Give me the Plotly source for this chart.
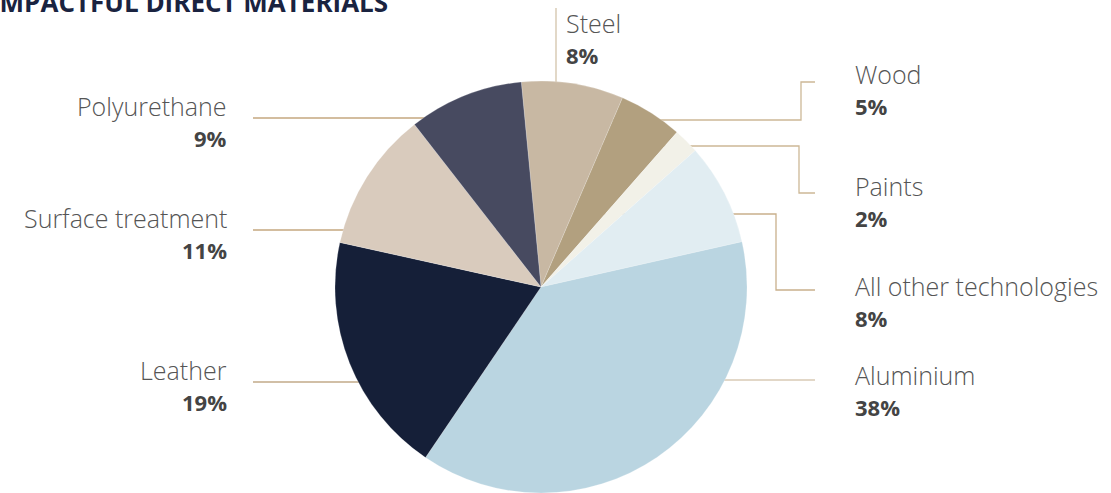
import plotly.graph_objects as go

W, H = 1111, 493

categories = ["Steel", "Wood", "Paints", "All other technologies", "Aluminium",
              "Leather", "Surface treatment", "Polyurethane"]
values = [8, 5, 2, 8, 38, 19, 11, 9]
pct_labels = ["8%", "5%", "2%", "8%", "38%", "19%", "11%", "9%"]
colors = ["#c8b8a3", "#b2a07f", "#f2f1e8", "#e1edf2", "#bad5e1",
          "#151f38", "#d9cbbd", "#474a60"]

# label placement (pixels): x, name y, anchor
label_pos = {
    "Steel": (564, 23, "left"),
    "Wood": (853, 74, "left"),
    "Paints": (853, 186, "left"),
    "All other technologies": (853, 286, "left"),
    "Aluminium": (853, 375, "left"),
    "Leather": (229, 370, "right"),
    "Surface treatment": (229, 218, "right"),
    "Polyurethane": (229, 106, "right"),
}
# leader line paths (pixels) and colours
leader_paths = [
    ([(556, 8), (556, 150)], "#d3c3aa"),
    ([(600, 120), (801, 120), (801, 82), (815, 82)], "#cdb896"),
    ([(600, 146), (799, 146), (799, 193), (815, 193)], "#cdb896"),
    ([(600, 214), (776, 214), (776, 290), (815, 290)], "#c9b08c"),
    ([(600, 380), (815, 380)], "#d8cab4"),
    ([(253, 382), (500, 382)], "#c2aa88"),
    ([(253, 230), (500, 230)], "#c4a77f"),
    ([(253, 118), (500, 118)], "#c4a77f"),
]

cx, cy, r = 541, 287, 206

def px(x):
    return x / W

def py(y):
    return 1 - y / H

fig = go.Figure(go.Pie(
    labels=categories, values=values, sort=False, direction="clockwise",
    rotation=-5.5, textinfo="none", hoverinfo="label+percent",
    marker=dict(colors=colors, line=dict(color="rgba(255,255,255,0.4)", width=0.5)),
    domain=dict(x=[px(cx - r), px(cx + r)], y=[py(cy + r), py(cy - r)]),
    showlegend=False,
))

shapes = []
for path, col in leader_paths:
    d = "M " + " L ".join(f"{px(x):.5f},{py(y):.5f}" for x, y in path)
    shapes.append(dict(type="path", path=d, xref="paper", yref="paper",
                       line=dict(color=col, width=1.3), layer="below"))

annotations = []
for cat, pct in zip(categories, pct_labels):
    x, y, anchor = label_pos[cat]
    annotations.append(dict(text=cat, x=px(x), y=py(y), xref="paper", yref="paper",
                            xanchor=anchor, yanchor="middle", showarrow=False,
                            font=dict(family="Open Sans", size=25, color="#555555", weight=300)))
    annotations.append(dict(text=f"<b>{pct}</b>", x=px(x), y=py(y + 32), xref="paper", yref="paper",
                            xanchor=anchor, yanchor="middle", showarrow=False,
                            font=dict(family="Open Sans", size=22, color="#444444")))

annotations.append(dict(text="<b>IMPACTFUL DIRECT MATERIALS</b>", x=px(-11), y=py(2),
                        xref="paper", yref="paper", xanchor="left", yanchor="middle",
                        showarrow=False,
                        font=dict(family="Open Sans", size=26, color="#1a2340", weight=800)))

fig.update_layout(
    width=W, height=H, margin=dict(l=0, r=0, t=0, b=0),
    paper_bgcolor="white", plot_bgcolor="white",
    shapes=shapes, annotations=annotations,
)

fig.write_html("out.html")
